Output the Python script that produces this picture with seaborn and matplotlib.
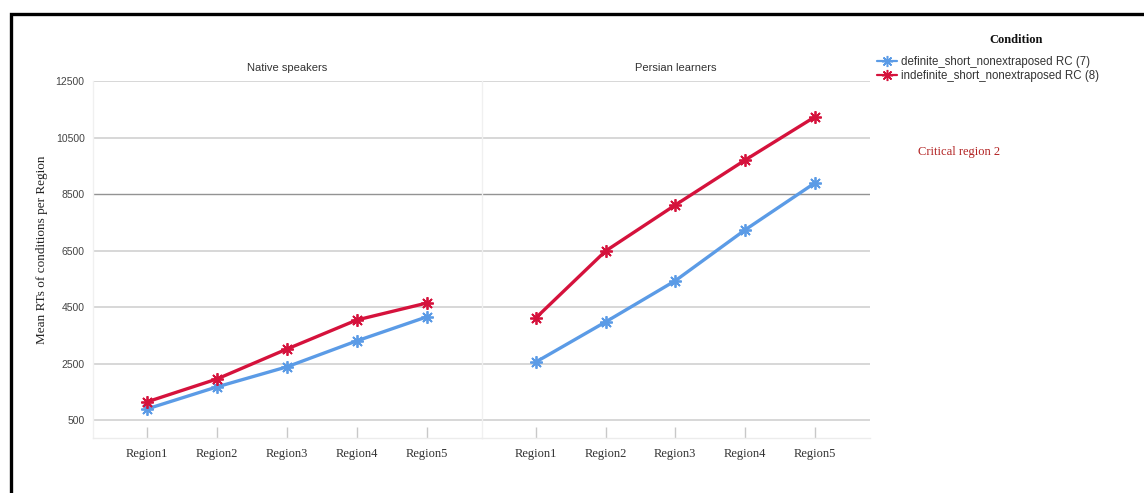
import numpy as np
import pandas as pd
import matplotlib
matplotlib.use("Agg")
import matplotlib.pyplot as plt
from matplotlib.patches import Rectangle
from matplotlib.lines import Line2D
import seaborn as sns

# Reading-time means per region, condition and speaker group
regions = ["Region1", "Region2", "Region3", "Region4", "Region5"]
groups = ["Native speakers", "Persian learners"]
conditions = ["definite_short_nonextraposed RC (7)",
              "indefinite_short_nonextraposed RC (8)"]

native_definite = [890, 1670, 2380, 3300, 4150]
native_indefinite = [1140, 1950, 3010, 4040, 4640]
persian_definite = [2550, 3970, 5430, 7230, 8890]
persian_indefinite = [4110, 6480, 8110, 9700, 11230]

yticks = [500, 2500, 4500, 6500, 8500, 10500, 12500]

rows = []
for grp, series in zip(groups, [(native_definite, native_indefinite),
                                (persian_definite, persian_indefinite)]):
    for cond, vals in zip(conditions, series):
        for reg, v in zip(regions, vals):
            rows.append({"group": grp, "Condition": cond, "region": reg, "rt": v})
df = pd.DataFrame(rows)

sns.set_theme(style="white")
plt.rcParams["font.family"] = ["Liberation Sans", "DejaVu Sans"]

palette = {conditions[0]: "#5b9be6", conditions[1]: "#d5123c"}
star = (8, 2, 0)

W, H = 1144, 493
fig = plt.figure(figsize=(W / 100, H / 100), dpi=100)

def fx(px):
    return px / W

def fy(py):
    return 1 - py / H

top_px, bot_px = 81, 438
y_top, y_bot = 12500, -137
lefts = [93, 482]
rights = [482, 870]

axes = []
for i, grp in enumerate(groups):
    ax = fig.add_axes([fx(lefts[i]), fy(bot_px), fx(rights[i] - lefts[i]),
                       (bot_px - top_px) / H])
    sub = df[df["group"] == grp]
    sns.lineplot(data=sub, x="region", y="rt", hue="Condition", palette=palette,
                 hue_order=conditions, marker=star, markersize=9,
                 linewidth=2.4, ax=ax, legend=False, sort=False)
    for ln in ax.lines:
        ln.set_markeredgecolor(ln.get_color())
        ln.set_markerfacecolor(ln.get_color())
        ln.set_markeredgewidth(1.3)
    ax.set_xlim(-0.77, 4.79)
    ax.set_ylim(y_bot, y_top)
    ax.set_yticks(yticks)
    for yv in yticks:
        ax.axhline(yv, color="#939393" if yv == 8500 else "#d4d4d4",
                   lw=1.0 if yv == 8500 else 1.3, zorder=0)
    ax.set_xlabel("")
    ax.set_ylabel("")
    ax.set_xticks(range(len(regions)))
    ax.set_xticklabels(regions, fontfamily="Liberation Serif", fontsize=9,
                       color="#333333")
    ax.tick_params(axis="x", direction="in", length=8, width=1,
                   color="#c8c8c8", pad=7, bottom=True)
    ax.tick_params(axis="y", length=0, labelsize=7.5, labelcolor="#444444", pad=6)
    if i == 1:
        ax.set_yticklabels([])
    for s in ["top", "right"]:
        ax.spines[s].set_visible(False)
    ax.spines["left"].set_color("#f0f0f0")
    ax.spines["bottom"].set_color("#ececec")
    ax.spines["left"].set_linewidth(1)
    ax.spines["bottom"].set_linewidth(1)
    ax.set_title(grp, fontsize=8, color="#333333", pad=7)
    axes.append(ax)

fig.text(fx(42), fy(250), "Mean RTs of conditions per Region", rotation=90,
         fontfamily="Liberation Serif", fontsize=9.5, color="#222222",
         ha="center", va="center")

leg_handles = [Line2D([], [], color=palette[c], marker=star, markersize=8,
                      markeredgecolor=palette[c], markeredgewidth=1.1,
                      linewidth=1.6) for c in conditions]
fig.text(fx(1016), fy(40), "Condition", fontfamily="Liberation Serif",
         fontweight="bold", fontsize=9, ha="center", va="center", color="#111111")
fig.legend(leg_handles, conditions, loc="upper left",
           bbox_to_anchor=(fx(877), fy(56)), frameon=False, fontsize=8.3,
           handlelength=1.7, handletextpad=0.35, labelspacing=0.15,
           borderpad=0, borderaxespad=0, labelcolor="#333333")

fig.text(fx(918), fy(152), "Critical region 2", fontfamily="Liberation Serif",
         fontsize=9, color="#b22222", ha="left", va="center")

fig.patches.append(Rectangle((fx(11), fy(H + 20)), fx(W + 20), fy(14) - fy(H + 20),
                             transform=fig.transFigure, fill=False,
                             edgecolor="black", linewidth=2.4))

fig.savefig("out.png", dpi=100)
